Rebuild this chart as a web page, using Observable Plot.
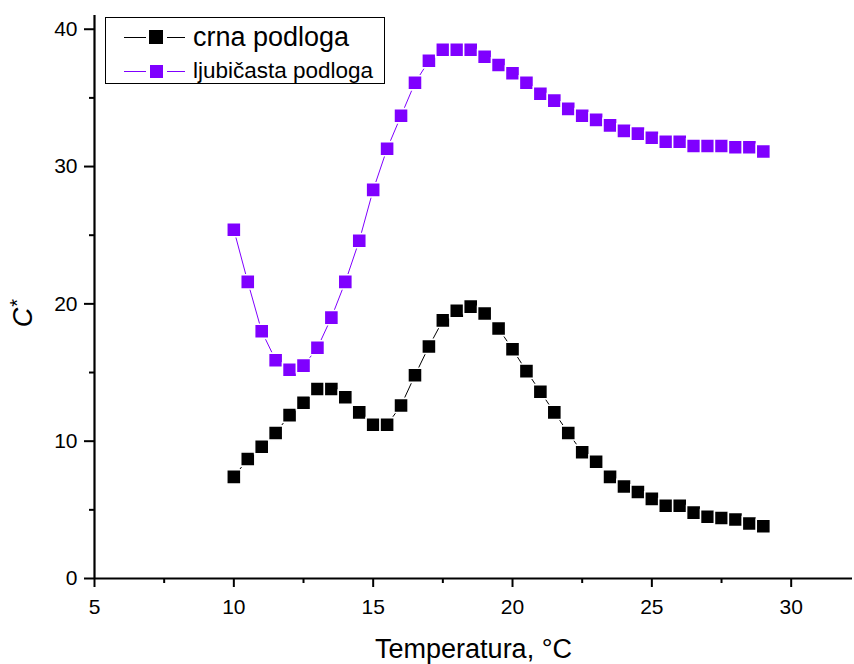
<!DOCTYPE html>
<html>
<head>
<meta charset="utf-8">
<script src="https://cdn.jsdelivr.net/npm/d3@7"></script>
<script src="https://cdn.jsdelivr.net/npm/@observablehq/plot@0.6"></script>
<style>
  body { margin: 0; background: #fff; font-family: "Liberation Sans", Arial, sans-serif; }
  #wrap { position: relative; width: 854px; height: 664px; }
  #legend { position: absolute; left: 105px; top: 17px; width: 280px; height: 67px;
            border: 1.3px solid #000; background: #fff; box-sizing: border-box; }
  .ln { position: absolute; height: 1px; }
  .sq { position: absolute; }
  .lab { position: absolute; white-space: nowrap; color: #000; }
  #ylabel { position: absolute; left: 22px; top: 313px; transform: translate(-50%, -50%) rotate(-90deg);
            font-size: 27px; white-space: nowrap; line-height: 1; color: #000; }
  #ylabel i { font-style: italic; }
  #ylabel sup { font-size: 20px; vertical-align: 8px; margin-left: 1px; }
</style>
</head>
<body>
<div id="wrap">
  <div id="chart"></div>
  <div id="legend"></div>
  <div id="ylabel"><i>C</i><sup>*</sup></div>
</div>
<script>
const temperature = [10,10.5,11,11.5,12,12.5,13,13.5,14,14.5,15,15.5,16,16.5,17,17.5,18,18.5,19,19.5,20,20.5,21,21.5,22,22.5,23,23.5,24,24.5,25,25.5,26,26.5,27,27.5,28,28.5,29];
const crna = [7.4,8.7,9.6,10.6,11.9,12.8,13.8,13.8,13.2,12.1,11.2,11.2,12.6,14.8,16.9,18.8,19.5,19.8,19.3,18.2,16.7,15.1,13.6,12.1,10.6,9.2,8.5,7.4,6.7,6.3,5.8,5.3,5.3,4.8,4.5,4.4,4.3,4.0,3.8];
const ljubicasta = [25.4,21.6,18.0,15.9,15.2,15.5,16.8,19.0,21.6,24.6,28.3,31.3,33.7,36.1,37.7,38.5,38.5,38.5,38.0,37.4,36.8,36.1,35.3,34.8,34.2,33.7,33.4,33.0,32.6,32.4,32.1,31.8,31.8,31.5,31.5,31.5,31.4,31.4,31.1];
const seriesNames = ["crna podloga", "ljubičasta podloga"];
const seriesColors = ["#000000", "#7F00FF"];
const xTicks = [5,10,15,20,25,30];
const xMinorTicks = [7.5,12.5,17.5,22.5,27.5];
const yTicks = [0,10,20,30,40];
const yMinorTicks = [5,15,25,35];

const dataCrna = temperature.map((t, i) => ({t, v: crna[i]}));
const dataLj = temperature.map((t, i) => ({t, v: ljubicasta[i]}));

const font = "Liberation Sans, Arial, sans-serif";
const chart = Plot.plot({
  width: 854,
  height: 664,
  marginLeft: 94,
  marginRight: 2,
  marginTop: 15,
  marginBottom: 86,
  style: {fontFamily: font, background: "#fff", color: "#000"},
  x: {domain: [5, 32.2], label: null},
  y: {domain: [0, 41], label: null},
  marks: [
    Plot.axisX({ticks: xTicks, tickSize: 9, tickPadding: 12, fontSize: 21, strokeWidth: 2, label: null}),
    Plot.axisX({ticks: xMinorTicks, tickSize: 5, text: null, strokeWidth: 2, label: null}),
    Plot.axisY({ticks: yTicks, tickSize: 10, tickPadding: 7, fontSize: 21, strokeWidth: 2, label: null}),
    Plot.axisY({ticks: yMinorTicks, tickSize: 5, text: null, strokeWidth: 2, label: null}),
    Plot.ruleX([5], {strokeWidth: 2.2}),
    Plot.ruleY([0], {strokeWidth: 2.2}),
    Plot.line(dataCrna, {x: "t", y: "v", stroke: seriesColors[0], strokeWidth: 1}),
    Plot.line(dataLj, {x: "t", y: "v", stroke: seriesColors[1], strokeWidth: 1}),
    Plot.dot(dataCrna, {x: "t", y: "v", symbol: "square", r: 8, fill: seriesColors[0], stroke: "#fff", strokeWidth: 1.6}),
    Plot.dot(dataLj, {x: "t", y: "v", symbol: "square", r: 8, fill: seriesColors[1], stroke: "#fff", strokeWidth: 1.6}),
    Plot.text(["Temperatura, °C"], {frameAnchor: "bottom", dy: 79, fontSize: 27, fill: "#000"})
  ]
});
document.getElementById("chart").appendChild(chart);

// legend
const legend = document.getElementById("legend");
const rows = [
  {name: seriesNames[0], color: seriesColors[0], top: 4, size: 27, sq: 14},
  {name: seriesNames[1], color: seriesColors[1], top: 38, size: 22.5, sq: 13}
];
rows.forEach(r => {
  const row = document.createElement("div");
  row.style.cssText = `position:absolute;left:0;top:${r.top}px;width:100%;height:30px;`;
  const l1 = document.createElement("div");
  l1.className = "ln";
  l1.style.cssText += `left:18px;width:22px;top:15px;background:${r.color};`;
  const sq = document.createElement("div");
  sq.className = "sq";
  sq.style.cssText += `left:${43 - (r.sq - 14)/2}px;top:${15 - r.sq/2}px;width:${r.sq}px;height:${r.sq}px;background:${r.color};`;
  const l2 = document.createElement("div");
  l2.className = "ln";
  l2.style.cssText += `left:61px;width:18px;top:15px;background:${r.color};`;
  const lab = document.createElement("div");
  lab.className = "lab";
  lab.textContent = r.name;
  lab.style.cssText += `left:87px;top:0;height:30px;line-height:30px;font-size:${r.size}px;`;
  row.append(l1, sq, l2, lab);
  legend.appendChild(row);
});
</script>
</body>
</html>
